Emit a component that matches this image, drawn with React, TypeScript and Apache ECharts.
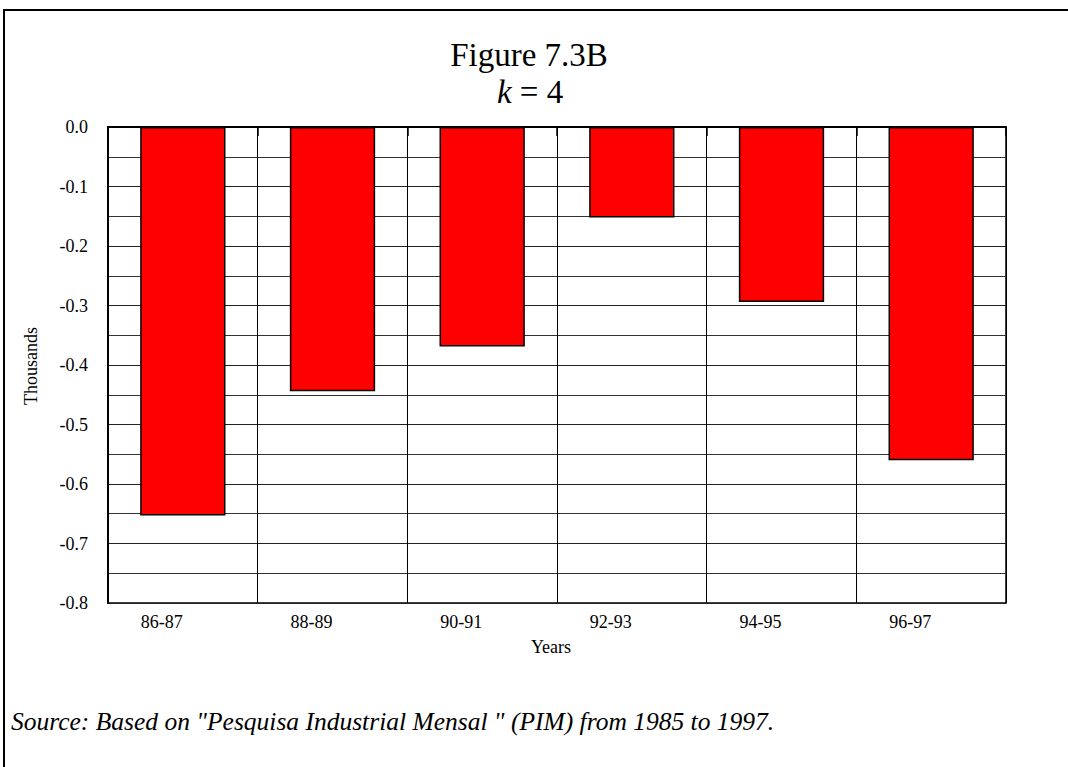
import React, { useEffect, useRef } from "react";
import * as echarts from "echarts";

const categories = ["86-87", "88-89", "90-91", "92-93", "94-95", "96-97"];
const values = [-0.653, -0.444, -0.369, -0.152, -0.294, -0.56];
const titleText = "Figure 7.3B";
const subtitleText = "{i|k} = 4";
const yAxisName = "Thousands";
const xAxisName = "Years";
const sourceText = 'Source: Based on "Pesquisa Industrial Mensal " (PIM) from 1985 to 1997.';

const FONT = "'Liberation Serif', 'Times New Roman', serif";

export default function App() {
  const ref = useRef<HTMLDivElement>(null);
  useEffect(() => {
    if (!ref.current) return;
    const chart = echarts.init(ref.current, null, { renderer: "svg" });
    chart.setOption({
      animation: false,
      backgroundColor: "#fff",
      textStyle: { fontFamily: FONT, color: "#000" },
      grid: {
        left: 108,
        top: 127,
        width: 898,
        height: 476,
        show: true,
        borderColor: "#000",
        borderWidth: 1.5,
        backgroundColor: "transparent",
      },
      xAxis: {
        type: "category",
        data: categories,
        boundaryGap: true,
        axisLine: { show: true, lineStyle: { color: "#000", width: 2 } },
        axisTick: { show: true, length: 9, lineStyle: { color: "#000", width: 1.5 } },
        axisLabel: {
          fontFamily: FONT,
          fontSize: 18,
          color: "#000",
          margin: 10,
          padding: [0, 42, 0, 0],
        },
        splitLine: { show: true, lineStyle: { color: "#000", width: 1 } },
      },
      yAxis: {
        type: "value",
        min: -0.8,
        max: 0,
        interval: 0.1,
        axisLine: { show: true, lineStyle: { color: "#000", width: 2 } },
        axisTick: { show: false },
        axisLabel: {
          fontFamily: FONT,
          fontSize: 18,
          color: "#000",
          margin: 20,
          formatter: (v: number) => (Math.abs(v) < 1e-9 ? "0.0" : v.toFixed(1)),
        },
        splitLine: { show: true, lineStyle: { color: "#222", width: 1 } },
        minorTick: { show: false, splitNumber: 2 },
        minorSplitLine: { show: true, lineStyle: { color: "#333", width: 1 } },
      },
      series: [
        {
          type: "bar",
          data: values,
          barWidth: "57%",
          itemStyle: { color: "#ff0000", borderColor: "#000", borderWidth: 1.5 },
        },
      ],
      graphic: [
        {
          type: "rect",
          shape: { x: 4, y: 10, width: 1200, height: 900 },
          style: { fill: "none", stroke: "#000", lineWidth: 2 },
          silent: true,
        },
        {
          type: "text",
          x: 529,
          y: 55,
          style: {
            text: titleText,
            fontFamily: FONT,
            fontSize: 33,
            fill: "#000",
            textAlign: "center",
            textVerticalAlign: "middle",
          },
        },
        {
          type: "text",
          x: 530,
          y: 92,
          style: {
            text: subtitleText,
            fontFamily: FONT,
            fontSize: 33,
            fill: "#000",
            textAlign: "center",
            textVerticalAlign: "middle",
            rich: {
              i: { fontFamily: FONT, fontSize: 33, fontStyle: "italic", fill: "#000" },
            },
          },
        },
        {
          type: "text",
          x: 31,
          y: 366,
          rotation: Math.PI / 2,
          style: {
            text: yAxisName,
            fontFamily: FONT,
            fontSize: 18,
            fill: "#000",
            textAlign: "center",
            textVerticalAlign: "middle",
          },
        },
        {
          type: "text",
          x: 551,
          y: 647,
          style: {
            text: xAxisName,
            fontFamily: FONT,
            fontSize: 18,
            fill: "#000",
            textAlign: "center",
            textVerticalAlign: "middle",
          },
        },
        {
          type: "text",
          x: 11,
          y: 721,
          style: {
            text: sourceText,
            fontFamily: FONT,
            fontSize: 25.5,
            fontStyle: "italic",
            fill: "#000",
            textAlign: "left",
            textVerticalAlign: "middle",
          },
        },
      ],
    });
    return () => chart.dispose();
  }, []);
  return (
    <div
      ref={ref}
      style={{ position: "absolute", left: 0, top: 0, width: 1068, height: 767 }}
    />
  );
}
